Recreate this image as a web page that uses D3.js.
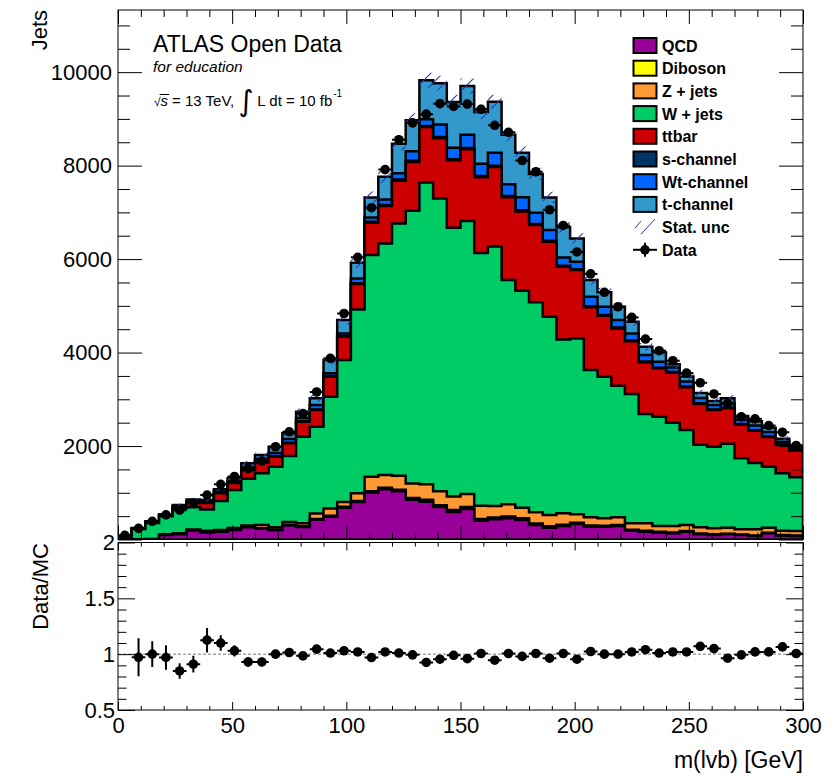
<!DOCTYPE html>
<html>
<head>
<meta charset="utf-8">
<script src="https://cdn.jsdelivr.net/npm/d3@7"></script>
<style>
    body { margin: 0; background: #fff; }
    svg { display: block; font-family: "Liberation Sans", Arial, Helvetica, sans-serif; }
</style>
</head>
<body>
<div id="chart"></div>
<script>
// binning of m(lvb): 50 bins of 6 GeV
const binWidth = 6;
const nBins = 50;
const xTickLabels = [0, 50, 100, 150, 200, 250, 300];
const yTickLabels = [2000, 4000, 6000, 8000, 10000];
const ratioTickLabels = [0.5, 1, 1.5, 2];

const sampleNames = ["QCD", "Diboson", "Z + jets", "W + jets", "ttbar", "s-channel", "Wt-channel", "t-channel"];
const sampleColors = ["#990099", "#ffff00", "#ff9933", "#00cc66", "#cc0000", "#003366", "#0066ff", "#3399cc"];

const qcd = [0, 0, 0, 95, 110, 190, 150, 165, 205, 260, 230, 200, 300, 270, 420, 488, 680, 800, 1000, 1075,
    1030, 850, 809, 695, 590, 655, 400, 432, 453, 417, 310, 252, 289, 332, 274, 274, 289, 188, 167, 146,
    132, 167, 111, 96, 111, 96, 75, 132, 82, 75];
const diboson = [1, 1, 2, 5, 5, 6, 7, 8, 8, 10, 12, 12, 14, 15, 18, 20, 22, 25, 30, 32,
    35, 38, 40, 40, 40, 40, 40, 40, 38, 36, 33, 30, 28, 26, 24, 22, 21, 20, 19, 18,
    17, 16, 15, 14, 14, 13, 13, 12, 12, 11];
const zjets = [4, 5, 8, 15, 20, 19, 28, 32, 32, 30, 68, 48, 61, 65, 117, 157, 103, 163, 313, 273,
    297, 310, 331, 295, 288, 278, 280, 244, 261, 227, 238, 242, 243, 181, 176, 157, 164, 138, 160, 125,
    140, 127, 135, 130, 127, 109, 130, 108, 94, 96];
const wjets = [25, 219, 345, 380, 530, 475, 455, 618, 815, 1000, 1106, 1297, 1411, 1849, 1858, 2389, 3034, 3936, 4742, 4956,
    5402, 5835, 6458, 6266, 5751, 5842, 5408, 5552, 4803, 4644, 4493, 4242, 3722, 3764, 3152, 3029, 2816, 2766, 2338, 2338,
    2209, 2032, 1769, 1745, 1798, 1519, 1419, 1305, 1228, 1148];
const ttbar = [3, 7, 15, 20, 35, 100, 140, 167, 150, 180, 234, 213, 271, 321, 357, 428, 499, 541, 692, 798,
    913, 1044, 1186, 1292, 1444, 1534, 1622, 1702, 1770, 1696, 1653, 1604, 1553, 1461, 1344, 1305, 1227, 1128, 1111, 1035,
    1072, 918, 870, 785, 756, 723, 690, 635, 605, 575];
const schan = [0, 1, 1, 2, 3, 4, 5, 6, 7, 8, 9, 10, 11, 12, 14, 15, 17, 19, 20, 22,
    24, 25, 26, 26, 26, 26, 26, 26, 25, 25, 24, 23, 22, 21, 20, 19, 18, 17, 16, 15,
    15, 14, 13, 12, 12, 12, 11, 11, 10, 10];
const wtchan = [2, 4, 6, 8, 12, 21, 20, 29, 33, 52, 61, 70, 82, 68, 96, 58, 55, 103, 95, 121,
    136, 208, 141, 268, 246, 286, 264, 278, 253, 280, 239, 227, 179, 157, 204, 174, 160, 153, 135, 126,
    95, 106, 117, 98, 92, 88, 102, 97, 59, 35];
const tchan = [5, 8, 13, 17, 23, 40, 40, 49, 59, 90, 87, 135, 121, 134, 140, 284, 285, 334, 428, 483,
    633, 659, 837, 883, 975, 1044, 1110, 1095, 1058, 949, 832, 700, 644, 501, 356, 310, 285, 249, 178, 197,
    70, 110, 105, 86, 110, 82, 90, 90, 65, 50];

const dataCounts = [90, 238, 390, 526, 627, 778, 951, 1181, 1348, 1516, 1681, 1985, 2305, 2693, 3156, 3877, 4836, 6039, 7100, 7915,
    8555, 8915, 9101, 9326, 9266, 9317, 9205, 8863, 8713, 8109, 7869, 7056, 6720, 6153, 5683, 5290, 4980, 4752, 4289, 4040,
    3825, 3560, 3354, 3114, 2911, 2626, 2581, 2438, 2295, 2012];
const ratioErr = [0, 0.17, 0.115, 0.11, 0.07, 0.075, 0.11, 0.07, 0.05, 0.045, 0.04, 0.035, 0.03, 0.03, 0.03, 0.025, 0.025, 0.02, 0.02, 0.02,
    0.02, 0.02, 0.02, 0.02, 0.02, 0.02, 0.02, 0.02, 0.02, 0.02, 0.02, 0.02, 0.02, 0.02, 0.02, 0.022, 0.022, 0.022, 0.024, 0.024,
    0.025, 0.025, 0.026, 0.026, 0.027, 0.028, 0.028, 0.029, 0.03, 0.03];
const statUnc = [5, 15, 20, 25, 30, 35, 35, 40, 45, 50, 55, 60, 65, 70, 75, 85, 95, 110, 125, 135,
    145, 150, 160, 160, 155, 160, 150, 150, 140, 135, 130, 120, 115, 110, 100, 95, 90, 85, 80, 78,
    75, 72, 68, 65, 65, 60, 58, 55, 52, 50];

const sampleValues = [qcd, diboson, zjets, wjets, ttbar, schan, wtchan, tchan];

const width = 839;
const height = 776;
const FONT = '"Liberation Sans", Arial, Helvetica, sans-serif';

const edges = d3.range(nBins + 1).map(i => i * binWidth);

const x = d3.scaleLinear().domain([0, 300]).range([118, 803]);
const y = d3.scaleLinear().domain([0, 11330]).range([539.5, 10]);
const yr = d3.scaleLinear().domain([0.5, 2]).range([710, 542.5]);

const rows = d3.range(nBins).map(i => {
    const row = {};
    sampleNames.forEach((name, j) => { row[name] = sampleValues[j][i]; });
    return row;
});
const stacked = d3.stack().keys(sampleNames)(rows);
const total = stacked[stacked.length - 1].map(d => d[1]);

const svg = d3.select("#chart").append("svg")
    .attr("width", width)
    .attr("height", height);

const defs = svg.append("defs");
defs.append("clipPath").attr("id", "clip-main")
  .append("rect")
    .attr("x", 118).attr("y", 10)
    .attr("width", 685).attr("height", 529.5);
defs.append("clipPath").attr("id", "clip-ratio")
  .append("rect")
    .attr("x", 118).attr("y", 542.5)
    .attr("width", 685).attr("height", 167.5);

const hatch = defs.append("pattern")
    .attr("id", "hatch")
    .attr("patternUnits", "userSpaceOnUse")
    .attr("width", 12).attr("height", 12);
hatch.append("path")
    .attr("d", "M-3,3 L3,-3 M0,12 L12,0 M9,15 L15,9")
    .attr("stroke", "#2f2fcc")
    .attr("stroke-width", 1.1);

function stepPoints(vals) {
    const pts = vals.map((v, i) => ({ x: edges[i], v: v }));
    pts.push({ x: edges[nBins], v: vals[nBins - 1] });
    return pts;
}

const stackArea = d3.area()
    .curve(d3.curveStepAfter)
    .x(d => x(d.x))
    .y0(y(0))
    .y1(d => y(d.v));

const main = svg.append("g").attr("clip-path", "url(#clip-main)");

// stacked backgrounds, drawn from the top layer down
for (let j = stacked.length - 1; j >= 0; j--) {
    main.append("path")
        .datum(stepPoints(stacked[j].map(d => d[1])))
        .attr("d", stackArea)
        .attr("fill", sampleColors[j])
        .attr("stroke", "#000")
        .attr("stroke-width", 2.5)
        .attr("stroke-linejoin", "miter");
}

// MC stat uncertainty band
const bandPts = total.map((t, i) => ({ x: edges[i], lo: t - statUnc[i], hi: t + statUnc[i] }));
bandPts.push({ x: edges[nBins], lo: bandPts[nBins - 1].lo, hi: bandPts[nBins - 1].hi });
main.append("path")
    .datum(bandPts)
    .attr("d", d3.area().curve(d3.curveStepAfter)
        .x(d => x(d.x)).y0(d => y(d.lo)).y1(d => y(d.hi)))
    .attr("fill", "url(#hatch)");

// data points
const dataG = main.append("g");
dataCounts.forEach((n, i) => {
    const cx = x(edges[i] + binWidth / 2);
    const err = Math.sqrt(n);
    dataG.append("line")
        .attr("x1", x(edges[i])).attr("x2", x(edges[i + 1]))
        .attr("y1", y(n)).attr("y2", y(n))
        .attr("stroke", "#000").attr("stroke-width", 2);
    dataG.append("line")
        .attr("x1", cx).attr("x2", cx)
        .attr("y1", y(n - err)).attr("y2", y(n + err))
        .attr("stroke", "#000").attr("stroke-width", 2);
    dataG.append("circle")
        .attr("cx", cx).attr("cy", y(n)).attr("r", 4.8)
        .attr("fill", "#000");
});

// ratio pad
const ratio = svg.append("g").attr("clip-path", "url(#clip-ratio)");
ratio.append("line")
    .attr("x1", x(0)).attr("x2", x(300))
    .attr("y1", yr(1)).attr("y2", yr(1))
    .attr("stroke", "#777").attr("stroke-width", 1)
    .attr("stroke-dasharray", "3,2");

dataCounts.forEach((n, i) => {
    const r = n / total[i];
    if (r < 0.5 || r > 2) return;
    const cx = x(edges[i] + binWidth / 2);
    ratio.append("line")
        .attr("x1", x(edges[i])).attr("x2", x(edges[i + 1]))
        .attr("y1", yr(r)).attr("y2", yr(r))
        .attr("stroke", "#000").attr("stroke-width", 2);
    ratio.append("line")
        .attr("x1", cx).attr("x2", cx)
        .attr("y1", yr(r - ratioErr[i])).attr("y2", yr(r + ratioErr[i]))
        .attr("stroke", "#000").attr("stroke-width", 2);
    ratio.append("circle")
        .attr("cx", cx).attr("cy", yr(r)).attr("r", 4.8)
        .attr("fill", "#000");
});

// axes and frames
function styleAxis(g) {
    g.select(".domain").remove();
    g.attr("font-family", FONT).attr("font-size", 22);
    g.selectAll("text").attr("fill", "#000");
    g.selectAll("line").attr("stroke", "#000");
}

const xMinor = d3.range(0, 301, 10).filter(v => v % 50 !== 0);
const yMinor = d3.range(500, 11330, 500).filter(v => v % 2000 !== 0);
const yMajor = [0].concat(yTickLabels);
const rMinor = d3.range(6, 20).map(v => v / 10).filter(v => v !== 1 && v !== 1.5);

svg.append("g").attr("transform", "translate(118,0)")
    .call(d3.axisLeft(y).tickValues(yMajor).tickSize(-24).tickPadding(6)
        .tickFormat(d => d === 0 ? "" : d))
    .call(styleAxis);
svg.append("g").attr("transform", "translate(118,0)")
    .call(d3.axisLeft(y).tickValues(yMinor).tickSize(-12).tickFormat(""))
    .call(styleAxis);
svg.append("g").attr("transform", "translate(803,0)")
    .call(d3.axisRight(y).tickValues(yMajor).tickSize(-24).tickFormat(""))
    .call(styleAxis);
svg.append("g").attr("transform", "translate(803,0)")
    .call(d3.axisRight(y).tickValues(yMinor).tickSize(-12).tickFormat(""))
    .call(styleAxis);

[[10, "top"], [539.5, "bottom"]].forEach(([yy, side]) => {
    const maker = side === "top" ? d3.axisTop : d3.axisBottom;
    svg.append("g").attr("transform", `translate(0,${yy})`)
        .call(maker(x).tickValues(xTickLabels).tickSize(-14).tickFormat(""))
        .call(styleAxis);
    svg.append("g").attr("transform", `translate(0,${yy})`)
        .call(maker(x).tickValues(xMinor).tickSize(-7).tickFormat(""))
        .call(styleAxis);
});

svg.append("g").attr("transform", "translate(118,0)")
    .call(d3.axisLeft(yr).tickValues(ratioTickLabels).tickSize(-17).tickPadding(3)
        .tickFormat(d => String(d)))
    .call(styleAxis);
svg.append("g").attr("transform", "translate(118,0)")
    .call(d3.axisLeft(yr).tickValues(rMinor).tickSize(-8.5).tickFormat(""))
    .call(styleAxis);
svg.append("g").attr("transform", "translate(803,0)")
    .call(d3.axisRight(yr).tickValues(ratioTickLabels).tickSize(-17).tickFormat(""))
    .call(styleAxis);
svg.append("g").attr("transform", "translate(803,0)")
    .call(d3.axisRight(yr).tickValues(rMinor).tickSize(-8.5).tickFormat(""))
    .call(styleAxis);
svg.append("g").attr("transform", "translate(0,542.5)")
    .call(d3.axisTop(x).tickValues(xTickLabels).tickSize(-8).tickFormat(""))
    .call(styleAxis);
svg.append("g").attr("transform", "translate(0,542.5)")
    .call(d3.axisTop(x).tickValues(xMinor).tickSize(-4).tickFormat(""))
    .call(styleAxis);
svg.append("g").attr("transform", "translate(0,710)")
    .call(d3.axisBottom(x).tickValues(xTickLabels).tickSize(-8).tickPadding(7))
    .call(styleAxis);
svg.append("g").attr("transform", "translate(0,710)")
    .call(d3.axisBottom(x).tickValues(xMinor).tickSize(-4).tickFormat(""))
    .call(styleAxis);

svg.append("rect")
    .attr("x", 118).attr("y", 10).attr("width", 685).attr("height", 529.5)
    .attr("fill", "none").attr("stroke", "#000").attr("stroke-width", 1);
svg.append("rect")
    .attr("x", 118).attr("y", 542.5).attr("width", 685).attr("height", 167.5)
    .attr("fill", "none").attr("stroke", "#000").attr("stroke-width", 1);

// axis titles
svg.append("text")
    .attr("transform", "translate(47,10) rotate(-90)")
    .attr("text-anchor", "end")
    .attr("font-size", 22)
    .text("Jets");
svg.append("text")
    .attr("transform", "translate(48,543) rotate(-90)")
    .attr("text-anchor", "end")
    .attr("font-size", 22)
    .text("Data/MC");
svg.append("text")
    .attr("x", 803).attr("y", 768)
    .attr("text-anchor", "end")
    .attr("font-size", 23)
    .text("m(lvb) [GeV]");

// ATLAS labels
svg.append("text")
    .attr("x", 153).attr("y", 52)
    .attr("font-size", 23)
    .text("ATLAS Open Data");
svg.append("text")
    .attr("x", 153).attr("y", 72)
    .attr("font-size", 15.5)
    .attr("font-style", "italic")
    .text("for education");

// sqrt(s) and luminosity line, pieces placed one after another
const lumi = svg.append("g").attr("font-size", 15);
let cursor = 154;
function lumiPiece(str, opts) {
    const t = lumi.append("text")
        .attr("x", cursor)
        .attr("y", opts.y || 106)
        .text(str);
    if (opts.size) t.attr("font-size", opts.size);
    if (opts.italic) t.attr("font-style", "italic");
    if (opts.family) t.attr("font-family", opts.family);
    const w = t.node().getComputedTextLength();
    const start = cursor;
    cursor += w + (opts.gap || 0);
    return { start: start, end: start + w };
}
lumiPiece("\u221A", { size: 12, gap: 0 });
const sPos = lumiPiece("s", { italic: true, gap: 4 });
lumi.append("line")
    .attr("x1", sPos.start - 1).attr("x2", sPos.end + 1)
    .attr("y1", 94.5).attr("y2", 94.5)
    .attr("stroke", "#000").attr("stroke-width", 1);
lumiPiece("= 13 TeV,", { gap: 4 });
lumiPiece("\u222B", { size: 29, y: 111, family: "DejaVu Sans", gap: 4 });
lumiPiece("L dt = 10 fb", { gap: 1 });
lumiPiece("-1", { size: 10, y: 97 });

// legend
const legend = svg.append("g").attr("font-size", 16).attr("font-weight", "bold");
const legendY0 = 45.5;
const legendStep = 22.7;
sampleNames.forEach((name, j) => {
    const cy = legendY0 + j * legendStep;
    legend.append("rect")
        .attr("x", 633.5).attr("y", cy - 7.5)
        .attr("width", 23).attr("height", 15)
        .attr("fill", sampleColors[j])
        .attr("stroke", "#000").attr("stroke-width", 2);
    legend.append("text")
        .attr("x", 662).attr("y", cy + 6)
        .text(name);
});
const statY = legendY0 + 8 * legendStep;
legend.append("line")
    .attr("x1", 635).attr("y1", statY + 1).attr("x2", 641).attr("y2", statY - 6)
    .attr("stroke", "#2f2fcc").attr("stroke-width", 1);
legend.append("line")
    .attr("x1", 641).attr("y1", statY + 7).attr("x2", 655).attr("y2", statY - 8)
    .attr("stroke", "#2f2fcc").attr("stroke-width", 1);
legend.append("text").attr("x", 662).attr("y", statY + 6).text("Stat. unc");

const dataY = legendY0 + 9 * legendStep;
legend.append("line")
    .attr("x1", 633).attr("x2", 657).attr("y1", dataY).attr("y2", dataY)
    .attr("stroke", "#000").attr("stroke-width", 2);
legend.append("line")
    .attr("x1", 645).attr("x2", 645).attr("y1", dataY - 7).attr("y2", dataY + 7)
    .attr("stroke", "#000").attr("stroke-width", 2);
legend.append("circle")
    .attr("cx", 645).attr("cy", dataY).attr("r", 4.8).attr("fill", "#000");
legend.append("text").attr("x", 662).attr("y", dataY + 6).text("Data");
</script>
</body>
</html>
